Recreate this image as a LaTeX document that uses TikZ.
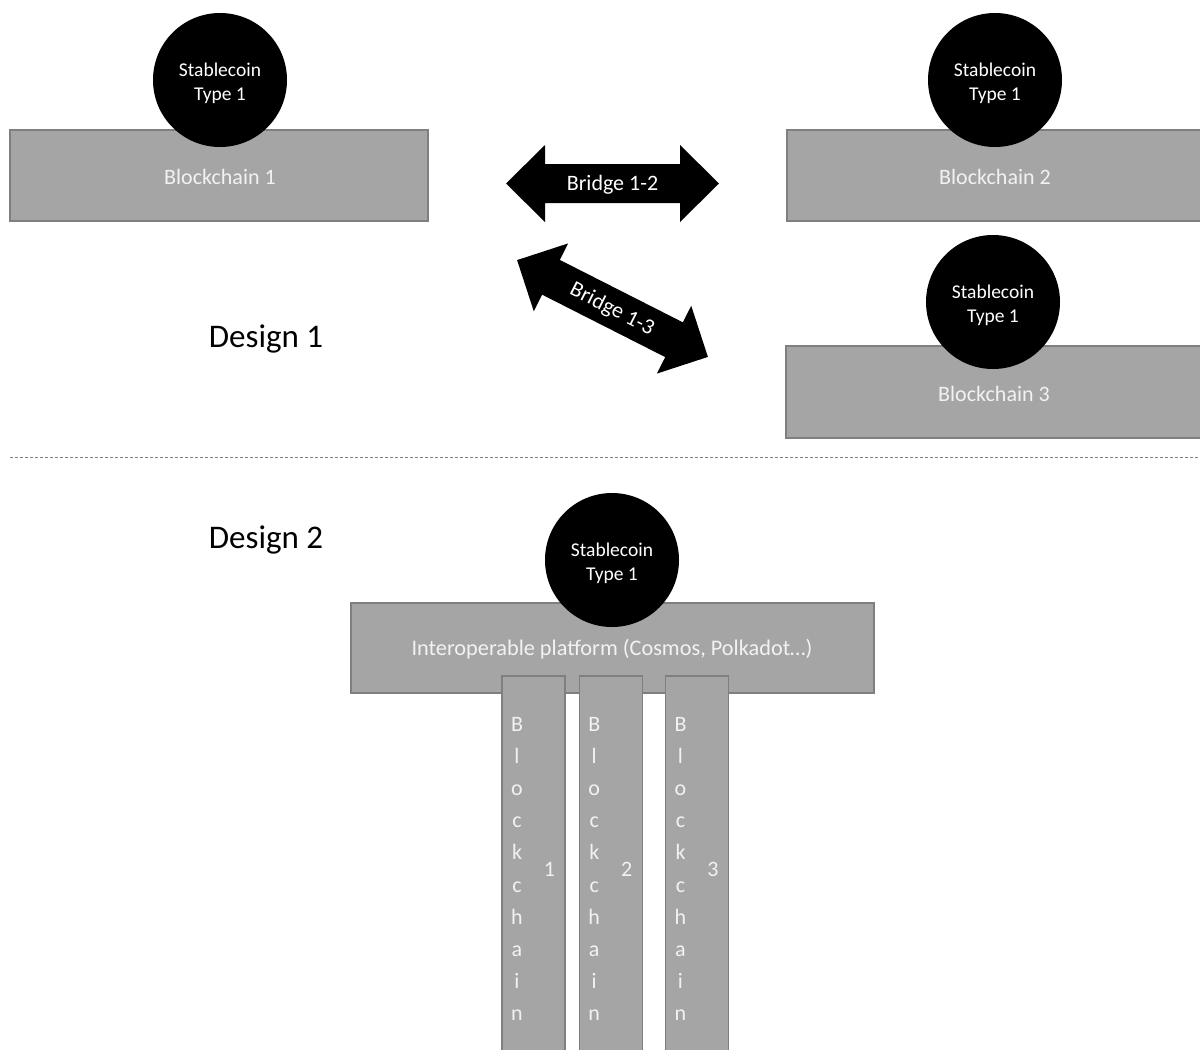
\documentclass[tikz,border=0pt]{standalone}
\usepackage{fontspec}
\setmainfont{Carlito}
\definecolor{boxfill}{HTML}{A5A5A5}
\definecolor{boxline}{HTML}{7F7F7F}
\definecolor{txt}{HTML}{F2F2F2}
\begin{document}
\begin{tikzpicture}[x=1pt,y=-1pt,
  chain/.style={draw=boxline, line width=1.5pt, fill=boxfill, inner sep=0pt},
  coin/.style={circle, fill=black, minimum size=134pt, inner sep=0pt, text=white, align=center, font=\fontsize{19.5}{24}\selectfont},
  lbl/.style={text=txt, font=\fontsize{22}{26}\selectfont, inner sep=0pt},
  brlbl/.style={text=white, font=\fontsize{22}{26}\selectfont, inner sep=0pt},
  title/.style={font=\fontsize{33}{38}\selectfont, inner sep=0pt},
  bridge/.style={fill=black},
]
\clip (0,0) rectangle (1200,1050);
\fill[white] (0,0) rectangle (1200,1050);

% Design 1
\node[chain, minimum width=418pt, minimum height=91pt] (b1) at (219,175.5) {};
\node[lbl] (b1t) at (220,177) {Blockchain 1};
\node[coin] (c1) at (220,80) {};
\node[coin, fill=none] (c1t) at (220,83) {Stablecoin\\Type 1};

\node[chain, minimum width=416pt, minimum height=91pt] (b2) at (995,175.5) {};
\node[lbl] (b2t) at (995,177) {Blockchain 2};
\node[coin] (c2) at (995,80) {};
\node[coin, fill=none] (c2t) at (995,83) {Stablecoin\\Type 1};

\node[chain, minimum width=416pt, minimum height=92pt] (b3) at (994,392) {};
\node[lbl] (b3t) at (994,394) {Blockchain 3};
\node[coin] (c3) at (993,302) {};
\node[coin, fill=none] (c3t) at (993,305) {Stablecoin\\Type 1};

\begin{scope}[shift={(612.5,183.5)}]
  \fill[bridge] (-106.5,0) -- (-67.5,-38.5) -- (-67.5,-19.5) -- (67.5,-19.5) -- (67.5,-38.5) -- (106.5,0)
    -- (67.5,38.5) -- (67.5,19.5) -- (-67.5,19.5) -- (-67.5,38.5) -- cycle;
  \node[brlbl] (br12) at (0,1) {Bridge 1-2};
\end{scope}

\begin{scope}[shift={(612.5,308.5)}, rotate=-26.9]
  \fill[bridge] (-107,0) -- (-69,-38) -- (-69,-19.5) -- (69,-19.5) -- (69,-38) -- (107,0)
    -- (69,38) -- (69,19.5) -- (-69,19.5) -- (-69,38) -- cycle;
  \node[brlbl, rotate=-26.9] (br13) at (0,1) {Bridge 1-3};
\end{scope}

\node[title] (d1) at (266,339) {Design 1};

% separator
\coordinate (dl) at (10,457);
\coordinate (dr) at (1200,457);
\draw[boxline, line width=1pt, dash pattern=on 3pt off 2pt] (dl) -- (dr);

% Design 2
\node[title] (d2) at (266,540) {Design 2};
\node[chain, minimum width=523pt, minimum height=90pt] (plat) at (612.5,648) {};
\node[lbl, font=\fontsize{22.3}{26}\selectfont] (platt) at (612,649.5) {Interoperable platform (Cosmos, Polkadot\ldots)};
\node[coin] (c4) at (612,560) {};
\node[coin, fill=none] (c4t) at (612,563) {Stablecoin\\Type 1};

\foreach \i/\x in {1/533.5, 2/610.75, 3/697} {
  \node[chain, minimum width=63pt, minimum height=380pt, anchor=north] (col\i) at (\x,675) {};
  \foreach \ch [count=\k from 0] in {B,l,o,c,k,c,h,a,i,n} {
    \node[lbl, anchor=base] (col\i l\k) at (\x-16.5, 731+32.2*\k) {\ch};
  }
  \node[lbl, anchor=base] (col\i n) at (\x+16, 876) {\i};
}
\end{tikzpicture}
\end{document}
